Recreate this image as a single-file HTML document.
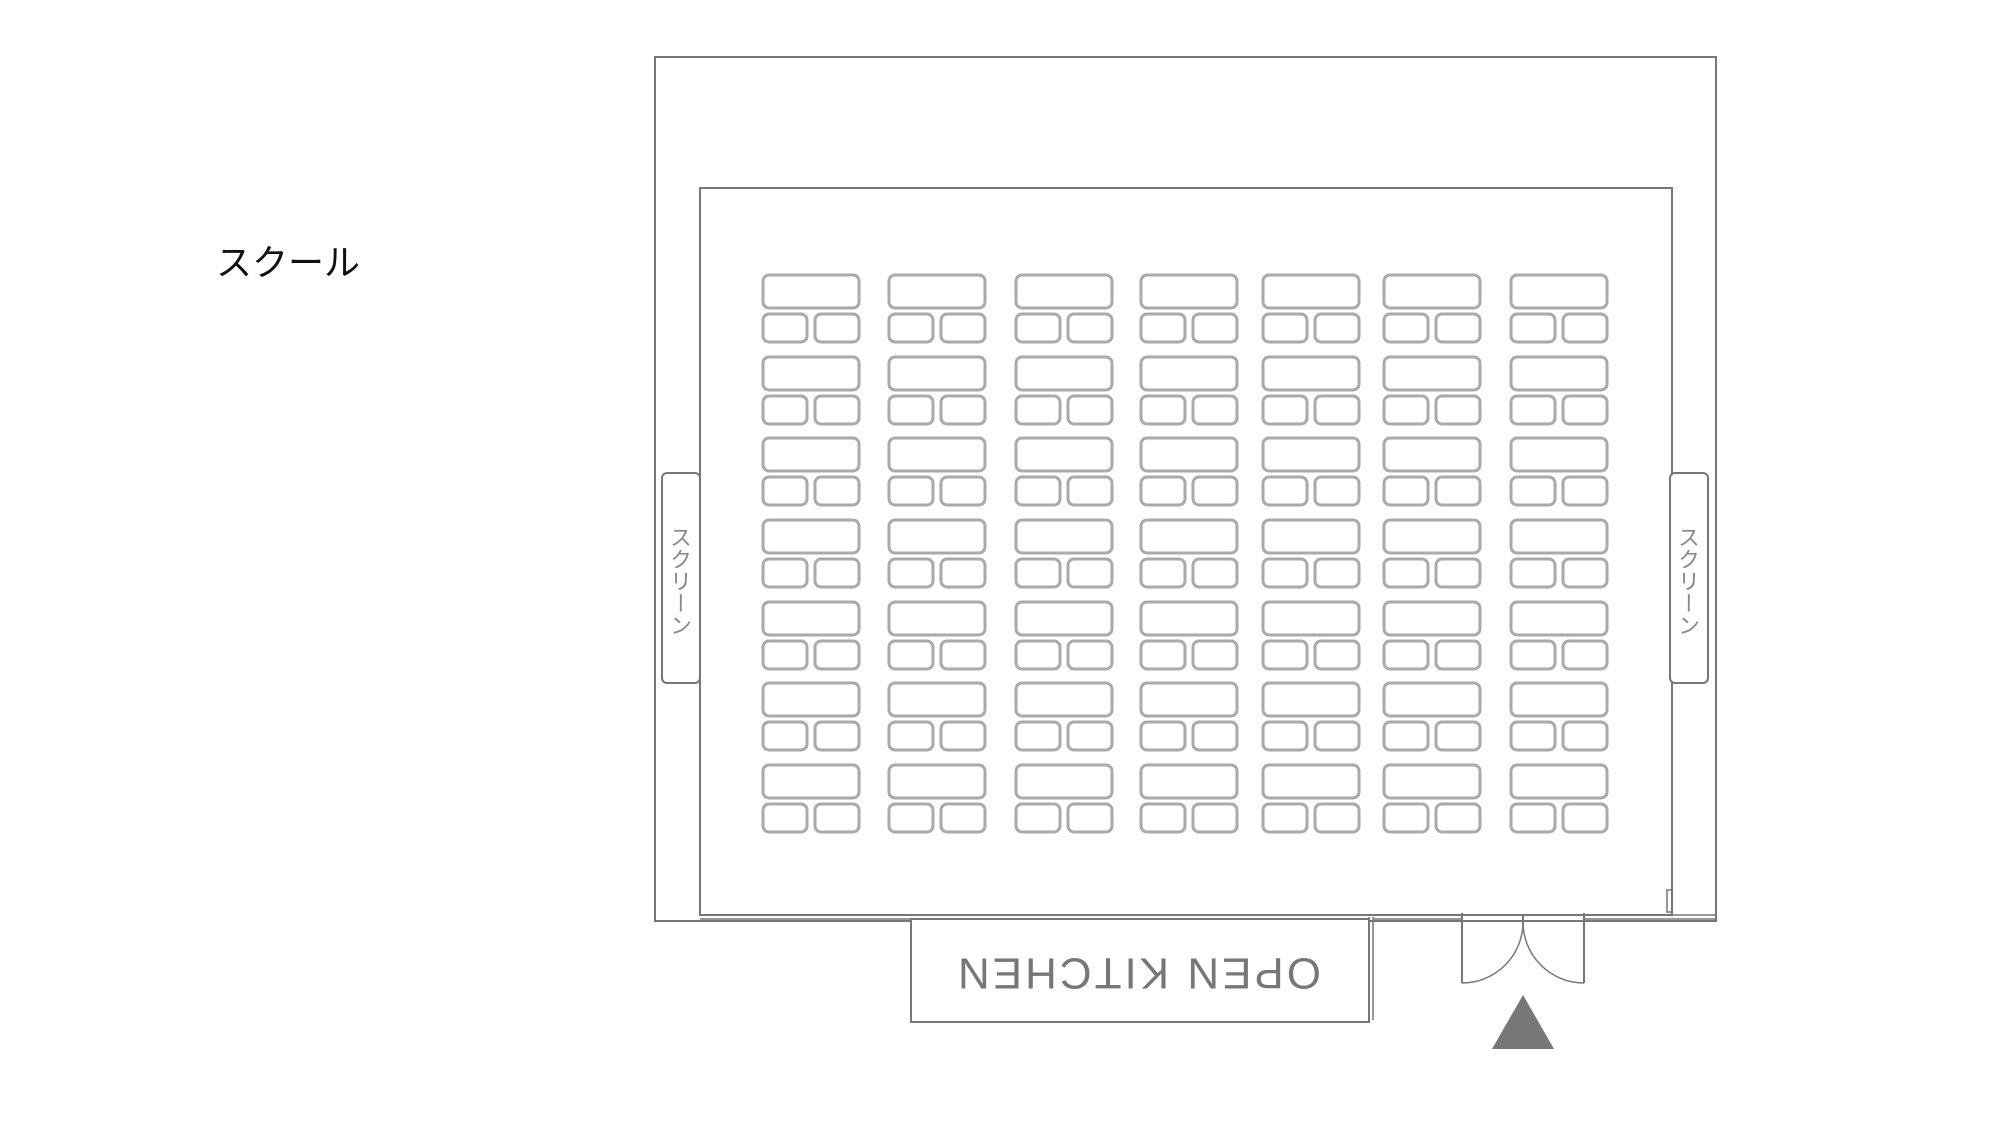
<!DOCTYPE html>
<html><head><meta charset="utf-8"><style>
body{margin:0;background:#fff;width:2000px;height:1125px;overflow:hidden}
</style></head><body>
<svg width="2000" height="1125" viewBox="0 0 2000 1125" xmlns="http://www.w3.org/2000/svg" xmlns:xlink="http://www.w3.org/1999/xlink">
<defs>
<g id="t" fill="none" stroke="#aaa" stroke-width="3">
<rect x="0" y="0" width="96" height="33" rx="6"/>
<rect x="0" y="39" width="44" height="28" rx="6"/>
<rect x="52" y="39" width="44" height="28" rx="6"/>
</g>
<g id="c">
<use xlink:href="#t" href="#t" y="275"/>
<use xlink:href="#t" href="#t" y="357"/>
<use xlink:href="#t" href="#t" y="438"/>
<use xlink:href="#t" href="#t" y="520"/>
<use xlink:href="#t" href="#t" y="602"/>
<use xlink:href="#t" href="#t" y="683"/>
<use xlink:href="#t" href="#t" y="765"/>
</g>
</defs>
<text x="216" y="275" font-family="Liberation Sans, Noto Sans CJK JP, sans-serif" font-size="36" fill="#111">スクール</text>
<g fill="none" stroke="#777" stroke-width="2">
<rect x="655" y="57" width="1061" height="864"/>
<rect x="700" y="188" width="972" height="727" fill="#fff"/>
<rect x="662" y="473" width="38" height="210" rx="5" fill="#fff"/>
<rect x="1670" y="473" width="38" height="210" rx="5" fill="#fff"/>
<path d="M700 915 L1372 915 M700 919 L1340 919" stroke-width="1.5"/>
<path d="M1369 917 L1369 1020 M1373 917 L1373 1020" stroke-width="1.5"/>
<rect x="911" y="919" width="458" height="103" fill="#fff"/>
<path d="M1373 915 L1462 915 M1373 919 L1462 919 M1584 915 L1716 915 M1584 919 L1716 919" stroke-width="1.5"/>
<path d="M1462 913 L1462 983 M1584 913 L1584 983"/>
<path d="M1462 983 A61 61 0 0 0 1523 921 M1584 983 A61 61 0 0 1 1523 921" stroke-width="1.5"/>
<path d="M1523 915 L1523 925"/>
<rect x="1667" y="890" width="5" height="22" stroke-width="1.5"/>
</g>
<text transform="translate(1138,973) rotate(180)" text-anchor="middle" dominant-baseline="central" font-family="Liberation Sans, sans-serif" font-size="44" letter-spacing="3" fill="#777">OPEN KITCHEN</text>
<text x="681" y="526" style="writing-mode:vertical-rl" font-family="Noto Sans CJK JP, sans-serif" font-size="22" fill="#888">スクリーン</text>
<text x="1689" y="526" style="writing-mode:vertical-rl" font-family="Noto Sans CJK JP, sans-serif" font-size="22" fill="#888">スクリーン</text>
<polygon points="1523,995 1492,1049 1554,1049" fill="#777"/>
<use xlink:href="#c" href="#c" x="763"/>
<use xlink:href="#c" href="#c" x="889"/>
<use xlink:href="#c" href="#c" x="1016"/>
<use xlink:href="#c" href="#c" x="1141"/>
<use xlink:href="#c" href="#c" x="1263"/>
<use xlink:href="#c" href="#c" x="1384"/>
<use xlink:href="#c" href="#c" x="1511"/>
</svg>
</body></html>
